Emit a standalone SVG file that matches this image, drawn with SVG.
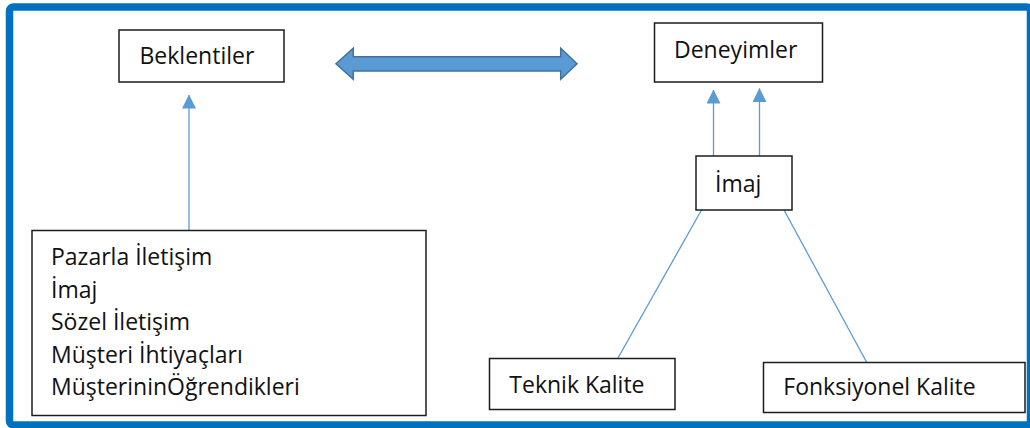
<svg xmlns="http://www.w3.org/2000/svg" width="1030" height="428" viewBox="0 0 1030 428">
  <style>
    .box { fill: #ffffff; stroke: #1c1c1c; stroke-width: 1.5; }
    .lbl { font-family: "Open Sans", "Liberation Sans", sans-serif; font-size: 23px; fill: #111111; }
    .link { stroke: #5b9bd5; stroke-width: 1.3; fill: none; }
  </style>
  <defs>
    <marker id="tri" markerWidth="14" markerHeight="14" refX="13.5" refY="7" orient="auto" markerUnits="userSpaceOnUse">
      <path d="M0,0 L14,7 L0,14 z" fill="#5b9bd5"/>
    </marker>
  </defs>

  <rect width="1030" height="428" fill="#ffffff"/>
  <!-- blue outer frame -->
  <rect x="9.5" y="7" width="1021" height="418" rx="4" fill="none" stroke="#0070c0" stroke-width="7.5"/>

  <!-- connectors -->
  <g id="connectors">
    <line class="link" x1="189" y1="230" x2="189" y2="95" marker-end="url(#tri)"/>
    <line class="link" x1="713.5" y1="156" x2="713.5" y2="90" marker-end="url(#tri)"/>
    <line class="link" x1="759.5" y1="156" x2="759.5" y2="88.5" marker-end="url(#tri)"/>
    <line class="link" x1="701.5" y1="210" x2="618" y2="358"/>
    <line class="link" x1="784" y1="210" x2="866.5" y2="362"/>
    <!-- two-way block arrow -->
    <polygon points="336,63.8 353.3,48.3 353.3,56.8 560.7,56.8 560.7,48.3 577,63.8 560.7,79.3 560.7,70.9 353.3,70.9 353.3,79.3" fill="#5b9bd5" stroke="#41719c" stroke-width="1.5" stroke-linejoin="miter"/>
  </g>

  <g id="beklentiler">
    <rect class="box" x="119" y="30" width="165" height="52"/>
    <text class="lbl" x="139.5" y="64.3">Beklentiler</text>
  </g>

  <g id="deneyimler">
    <rect class="box" x="654.5" y="23" width="168" height="59"/>
    <text class="lbl" x="674" y="58.3">Deneyimler</text>
  </g>

  <g id="imaj">
    <rect class="box" x="696" y="156" width="96" height="54"/>
    <text class="lbl" x="715" y="191.7">İmaj</text>
  </g>

  <g id="girdiler">
    <rect class="box" x="32" y="230.5" width="394" height="185"/>
    <text class="lbl" x="51" y="265">Pazarla İletişim</text>
    <text class="lbl" x="51" y="297.5">İmaj</text>
    <text class="lbl" x="51" y="330">Sözel İletişim</text>
    <text class="lbl" x="51" y="362.5">Müşteri İhtiyaçları</text>
    <text class="lbl" x="51" y="395">MüşterininÖğrendikleri</text>
  </g>

  <g id="teknik-kalite">
    <rect class="box" x="489.5" y="358.5" width="185.5" height="51"/>
    <text class="lbl" x="509.3" y="392.7">Teknik Kalite</text>
  </g>

  <g id="fonksiyonel-kalite">
    <rect class="box" x="763.5" y="362.5" width="261.5" height="50"/>
    <text class="lbl" x="783.3" y="395">Fonksiyonel Kalite</text>
  </g>
</svg>
